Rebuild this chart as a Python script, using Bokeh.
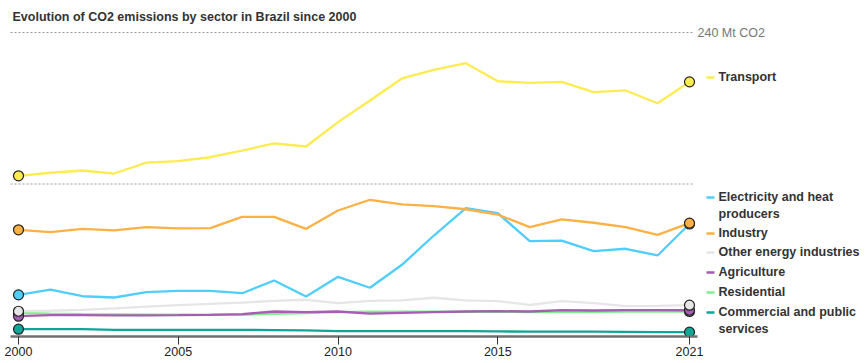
from bokeh.plotting import figure
from bokeh.models import FixedTicker, Range1d
from bokeh.core.properties import value
from bokeh.embed import file_html
from bokeh.resources import INLINE

# ---------------- data ----------------
years = list(range(2000, 2022))
transport = [126.5, 128.9, 130.7, 128.3, 137.0, 138.1, 141.2, 146.5, 152.1, 149.7, 169.0,
             186.1, 203.6, 210.4, 215.7, 201.4, 200.1, 200.9, 192.7, 194.1, 184.0, 200.9]
industry = [83.7, 81.8, 84.5, 83.2, 85.8, 84.8, 85.0, 94.0, 94.0, 84.5, 99.0,
            107.5, 103.8, 102.4, 100.0, 95.8, 85.8, 91.9, 89.3, 85.8, 79.7, 89.0]
electricity = [32.2, 36.4, 31.1, 30.1, 34.3, 35.4, 35.4, 33.5, 43.6, 30.9, 46.5,
               37.8, 56.0, 79.2, 100.8, 96.9, 74.7, 75.2, 66.8, 68.7, 63.4, 88.3]
other_energy = [19.2, 19.6, 20.3, 21.5, 22.8, 24.0, 25.0, 26.0, 27.5, 28.3, 25.6,
                27.5, 27.9, 29.9, 27.9, 27.2, 24.3, 27.2, 25.6, 23.2, 23.5, 24.0]
agriculture = [15.3, 16.1, 16.1, 16.0, 16.0, 16.1, 16.3, 16.9, 19.0, 18.5, 19.0,
               17.4, 18.0, 18.5, 19.0, 19.3, 19.0, 20.1, 19.8, 20.1, 20.1, 20.0]
residential = [18.0, 17.4, 17.0, 16.8, 16.6, 16.6, 16.5, 16.4, 17.2, 17.8, 18.5,
               18.8, 18.8, 18.8, 18.8, 18.8, 18.5, 18.7, 18.8, 18.9, 19.0, 19.0]
commercial = [5.0, 5.0, 5.0, 4.5, 4.5, 4.5, 4.5, 4.5, 4.3, 4.0, 3.4,
              3.4, 3.4, 3.4, 3.4, 3.2, 3.1, 3.0, 3.0, 2.9, 2.7, 2.6]

series_names = ["Transport", "Electricity and heat producers", "Industry",
                "Other energy industries", "Agriculture", "Residential",
                "Commercial and public services"]
legend_texts = ["Transport", "Electricity and heat\nproducers", "Industry",
                "Other energy industries", "Agriculture", "Residential",
                "Commercial and public\nservices"]
series_values = [transport, electricity, industry, other_energy, agriculture,
                 residential, commercial]
tick_years = [2000, 2005, 2010, 2015, 2021]
grid_values = [120, 240]
grid_label = "240 Mt CO2"
title_text = "Evolution of CO2 emissions by sector in Brazil since 2000"

# ---------------- style / layout ----------------
colors = ["#fdec50", "#4fcefc", "#fdb043", "#e6e6e6", "#a65db3", "#7ef08e", "#12a597"]
draw_order = [6, 5, 4, 3, 1, 2, 0]   # back to front
FONT = "Liberation Sans"
TEXT_COLOR = "#333333"

W = 865
FRAME_H = 336
AXIS_H = 25
H = FRAME_H + AXIS_H
X0_PX, X1_PX = 18, 689            # px of first / last year
PX_PER_YEAR = (X1_PX - X0_PX) / (years[-1] - years[0])
ZERO_PX = 335                     # px (from top) of value 0
PX_PER_MT = 303 / 240


def dx(px):
    return years[0] + (px - X0_PX) / PX_PER_YEAR


def dy(py):
    return (ZERO_PX - py) / PX_PER_MT


legend_y_px = [77, 197, 233, 252, 272, 292, 312]

p = figure(width=W, height=H, output_backend="svg", toolbar_location=None,
           x_range=Range1d(dx(0), dx(W)), y_range=Range1d(dy(FRAME_H), dy(0)),
           y_axis_location=None, min_border_left=0, min_border_right=0,
           min_border_top=0, min_border_bottom=AXIS_H)
p.outline_line_color = None
p.xgrid.visible = False
p.ygrid.visible = False
p.background_fill_color = "white"
p.border_fill_color = "white"

# grid lines
p.segment(x0=[dx(10)] * len(grid_values), x1=[dx(694)] * len(grid_values),
          y0=grid_values, y1=grid_values, line_color="#9a9a9a",
          line_width=1, line_dash="2 2")
p.text(x=[dx(697)], y=[grid_values[-1]], text=[grid_label],
       text_font=value(FONT), text_font_size="12.5px", text_color="#777777",
       text_baseline="middle", text_align="left")

# title
p.text(x=[dx(12)], y=[dy(16)], text=[title_text], text_font=value(FONT),
       text_font_size="12.5px", text_font_style="bold", text_color=TEXT_COLOR,
       text_baseline="middle", text_align="left")

# lines
for i in draw_order:
    p.line(years, series_values[i], line_color=colors[i], line_width=2.3)

# end markers
for i in draw_order:
    vals = series_values[i]
    p.scatter([years[0], years[-1]], [vals[0], vals[-1]], size=10,
              fill_color=colors[i], line_color="#222222", line_width=1.2)

# legend
for txt, col, ly in zip(legend_texts, colors, legend_y_px):
    p.segment(x0=[dx(706)], x1=[dx(714)], y0=[dy(ly)], y1=[dy(ly)],
              line_color=col, line_width=2.5)
    p.text(x=[dx(718)], y=[dy(ly - 8)], text=[txt], text_font=value(FONT),
           text_font_size="12.5px", text_font_style="bold", text_color=TEXT_COLOR,
           text_baseline="top", text_align="left", text_line_height=1.28)

# x axis
ax = p.xaxis[0]
ax.ticker = FixedTicker(ticks=tick_years)
ax.bounds = (dx(10), dx(697))
ax.axis_line_color = "#707070"
ax.axis_line_width = 2.5
ax.major_tick_line_color = "#333333"
ax.major_tick_in = 0
ax.major_tick_out = 8
ax.minor_tick_line_color = None
ax.major_label_standoff = 2
ax.major_label_text_font = FONT
ax.major_label_text_font_size = "12.5px"
ax.major_label_text_color = "#222222"

open("out.html", "w").write(file_html(p, INLINE))
